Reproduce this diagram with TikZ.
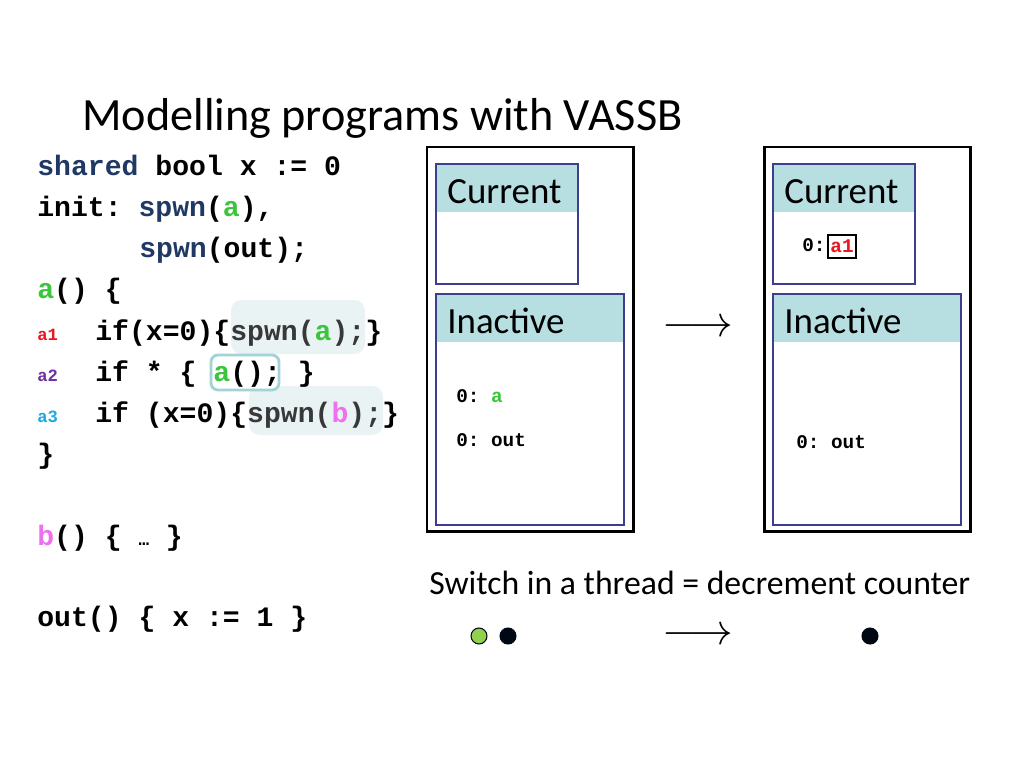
\documentclass[tikz,border=0pt]{standalone}
\usepackage{fontspec}
\setmainfont{Carlito}
\newfontfamily\codefont{Liberation Mono}
\usetikzlibrary{positioning}

\definecolor{kwblue}{HTML}{1F3864}
\definecolor{agreen}{HTML}{3CC43C}
\definecolor{bpink}{HTML}{EE70EE}
\definecolor{lblred}{HTML}{E8141E}
\definecolor{lblpurple}{HTML}{7030A0}
\definecolor{lblcyan}{HTML}{1CA8E0}
\definecolor{hlfill}{HTML}{EAF3F4}
\definecolor{hlborder}{HTML}{A3D3D6}
\definecolor{hltext}{HTML}{383838}
\definecolor{headfill}{HTML}{B7DFE2}
\definecolor{boxline}{HTML}{3E3E8E}
\definecolor{dotgreen}{HTML}{92D050}
\definecolor{dotdark}{HTML}{000814}

\newcommand{\kw}[1]{\textcolor{kwblue}{#1}}
\newcommand{\ga}{\textcolor{agreen}{a}}

\tikzset{
    code/.style={anchor=base west, inner sep=0pt,
        font=\codefont\bfseries\frenchspacing\fontsize{16}{16}\selectfont},
    linelbl/.style={anchor=base west, inner sep=0pt,
        font=\codefont\bfseries\fontsize{9.8}{10}\selectfont},
    cnt/.style={anchor=base west, inner sep=0pt,
        font=\codefont\bfseries\frenchspacing\fontsize{11}{11}\selectfont},
    boxhead/.style={anchor=base west, inner sep=0pt,
        font=\fontsize{21}{21}\selectfont},
    hlbox/.style={fill=hlfill, rounded corners=6pt},
    statebox/.style={draw=boxline, line width=0.6pt},
    outerbox/.style={draw=black, line width=1.7pt},
    thread/.style={circle, draw=dotdark, line width=0.6pt, inner sep=0pt,
        minimum size=0.32cm},
    bigarrow/.style={inner sep=0pt, font=\fontsize{25}{25}\selectfont}
}

\begin{document}
\begin{tikzpicture}[x=0.02cm, y=-0.02cm]
    \useasboundingbox (0,0) rectangle (1024,768);

    % title
    \node[anchor=base west, inner sep=0pt, font=\fontsize{26.3}{26.3}\selectfont]
        (title) at (82,130) {Modelling programs with VASSB};

    % highlights in the code
    \fill[hlbox] (231,300) rectangle (365,354);
    \fill[hlbox] (249,386) rectangle (383,435);
    \draw[hlborder, line width=1.6pt, rounded corners=4pt, fill=white]
        (211,355) rectangle (279,390);

    % program
    \node[code] (l1) at (37,175) {\kw{shared} bool x := 0};
    \node[code] (l2) at (37,216) {init: \kw{spwn}(\ga),};
    \node[code] (l3) at (139,257) {\kw{spwn}(out);};
    \node[code] (l4) at (37,298) {\ga() \{};
    \node[linelbl, text=lblred] (la1) at (37,340) {a1};
    \node[code] (l5) at (95,340) {if(x=0)\{\textcolor{hltext}{spwn(\ga);}\}};
    \node[linelbl, text=lblpurple] (la2) at (37,381) {a2};
    \node[code] (l6) at (95,381) {if * \{ \ga(); \}};
    \node[linelbl, text=lblcyan] (la3) at (37,422) {a3};
    \node[code] (l7) at (95,422) {if (x=0)\{\textcolor{hltext}{spwn(\textcolor{bpink}{b});}\}};
    \node[code] (l8) at (37,463) {\}};
    \node[code] (l9) at (37,545) {\textcolor{bpink}{b}() \{ {\fontsize{10}{10}\selectfont …} \}};
    \node[code] (l10) at (37,626) {out() \{ x := 1 \}};

    % state before
    \draw[outerbox] (427,147) rectangle (633,531);
    \fill[headfill] (436,164) rectangle (578,212);
    \draw[statebox] (436,164) rectangle (578,284);
    \node[boxhead] (curL) at (447,203) {Current};
    \fill[headfill] (436,294) rectangle (624,342);
    \draw[statebox] (436,294) rectangle (624,525);
    \node[boxhead] (inaL) at (447,333) {Inactive};
    \node[cnt] (inaLa) at (456,402) {0: \ga};
    \node[cnt] (inaLout) at (456,446) {0: out};

    % state after
    \draw[outerbox] (764,147) rectangle (970,531);
    \fill[headfill] (773,164) rectangle (915,212);
    \draw[statebox] (773,164) rectangle (915,284);
    \node[boxhead] (curR) at (784,203) {Current};
    \node[cnt] (curRz) at (802,251) {0:};
    \node[draw=black, line width=1.2pt, inner sep=0pt, minimum width=0.56cm,
        minimum height=0.46cm, text=lblred,
        font=\codefont\bfseries\fontsize{11}{11}\selectfont]
        (curRa) at (842,246.5) {a1};
    \fill[headfill] (773,294) rectangle (961,342);
    \draw[statebox] (773,294) rectangle (961,525);
    \node[boxhead] (inaR) at (784,333) {Inactive};
    \node[cnt] (inaRout) at (796,448) {0: out};

    \node[bigarrow] (step1) at (698,328) {$\longrightarrow$};

    % counters
    \node[anchor=base west, inner sep=0pt, font=\fontsize{19.2}{19.2}\selectfont]
        (switch) at (429,594) {Switch in a thread = decrement counter};
    \node[thread, fill=dotgreen] (ta) at (479,636) {};
    \node[thread, fill=dotdark] (tout) at (508,636) {};
    \node[bigarrow] (step2) at (698,636) {$\longrightarrow$};
    \node[thread, fill=dotdark] (toutR) at (870,636) {};
\end{tikzpicture}
\end{document}
